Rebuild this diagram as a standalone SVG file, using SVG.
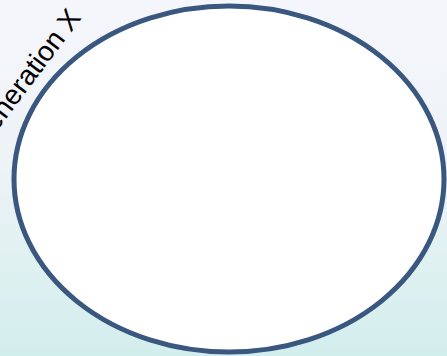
<svg xmlns="http://www.w3.org/2000/svg" width="447" height="356" viewBox="0 0 447 356">
<defs>
<linearGradient id="bg" x1="0" y1="0" x2="0" y2="1">
<stop offset="0" stop-color="#f5f6fb"/>
<stop offset="0.45" stop-color="#eef3f7"/>
<stop offset="1" stop-color="#d2eeec"/>
</linearGradient>
<style>
.lbl{font-family:"Liberation Sans",Arial,sans-serif;font-size:28px;fill:#000}
.ell{fill:#fff;stroke:#3a577f;stroke-width:5}
</style>
</defs>
<rect width="447" height="356" fill="url(#bg)"/>
<g id="node-genx">
<ellipse class="ell" cx="229" cy="179" rx="215" ry="173"/>
<text class="lbl" text-anchor="end" transform="translate(82 18) rotate(-53)">Generation X</text>
</g>
<g id="connectors"/>
</svg>
